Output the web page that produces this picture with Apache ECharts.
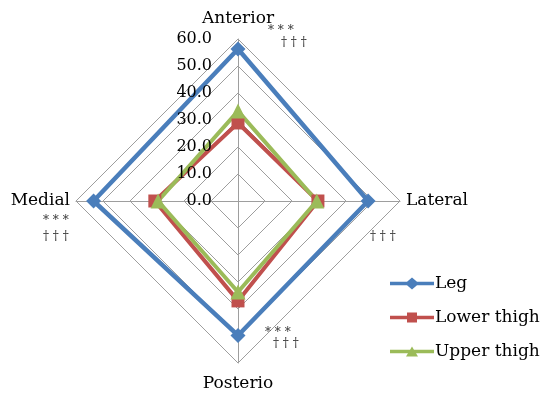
<!DOCTYPE html>
<html>
<head>
<meta charset="utf-8">
<script src="https://cdn.jsdelivr.net/npm/echarts@6/dist/echarts.min.js"></script>
<style>
  html, body { margin: 0; padding: 0; background: #fff; }
  #chart { width: 540px; height: 394px; }
</style>
</head>
<body>
<div id="chart"></div>
<script>
// Directions, in the order the radar lays them out (top, then counter-clockwise)
const categories = ['Anterior', 'Medial', 'Posterio', 'Lateral'];
const seriesNames = ['Leg', 'Lower thigh', 'Upper thigh'];
const legValues = [56.3, 53.5, 49.8, 48.2];
const lowerThighValues = [28.9, 30.8, 37.0, 29.6];
const upperThighValues = [33.3, 29.6, 33.7, 29.2];
const tickMax = 60;
const tickStep = 10;

const FONT = 'DejaVu Serif';
const colors = ['#4A7EBB', '#C0504D', '#9BBB59'];
const symbols = ['diamond', 'rect', 'triangle'];
const symbolSizes = [15, 13, 15];
const legendIcons = [
  'path://M0,4.3 L17,4.3 L22,0 L27,4.3 L44,4.3 L44,7.7 L27,7.7 L22,12 L17,7.7 L0,7.7 Z',
  'path://M0,4.3 L17,4.3 L17,1 L27,1 L27,4.3 L44,4.3 L44,7.7 L27,7.7 L27,11 L17,11 L17,7.7 L0,7.7 Z',
  'path://M0,4.3 L44,4.3 L44,7.7 L0,7.7 Z M22,1 L28,11 L16,11 Z'
];
const valueSets = [legValues, lowerThighValues, upperThighValues];

const cx = 238, cy = 201, R = 162;

const chart = echarts.init(document.getElementById('chart'), null, { renderer: 'canvas' });

const note = (text, x, y) => ({
  type: 'text', x: x, y: y, z: 20,
  style: { text: text, font: '12px ' + FONT, fill: '#333' }
});

const option = {
  animation: false,
  radar: {
    center: [cx, cy],
    radius: R,
    startAngle: 90,
    splitNumber: tickMax / tickStep,
    shape: 'polygon',
    indicator: categories.map(name => ({ name: name, min: 0, max: tickMax })),
    axisName: { color: '#000', fontFamily: FONT, fontSize: 17, padding: [6, 0, 6, 0] },
    nameGap: 6,
    axisLine: { lineStyle: { color: '#9E9E9E', width: 1 } },
    splitLine: { lineStyle: { color: '#9E9E9E', width: 1 } },
    splitArea: { show: false },
    axisTick: { show: false },
    axisLabel: { show: false }
  },
  // Value scale printed along the upward spoke
  grid: { left: cx, top: cy - R, height: R, width: 1, z: 10 },
  xAxis: { type: 'value', show: false },
  yAxis: {
    type: 'value', min: 0, max: tickMax, interval: tickStep, z: 10,
    axisLine: { show: false }, axisTick: { show: false }, splitLine: { show: false },
    axisLabel: {
      margin: 26, color: '#000', fontFamily: FONT, fontSize: 16,
      formatter: v => v.toFixed(1)
    }
  },
  legend: {
    orient: 'vertical',
    left: 385, top: 270,
    itemWidth: 44, itemHeight: 12, itemGap: 17,
    textStyle: { color: '#000', fontFamily: FONT, fontSize: 17, padding: [0, 0, 0, -4] },
    data: seriesNames.map((n, i) => ({ name: n, icon: legendIcons[i], itemStyle: { color: colors[i] } }))
  },
  series: [{
    type: 'radar',
    z: 2,
    data: seriesNames.map((n, i) => ({
      name: n,
      value: valueSets[i],
      symbol: symbols[i],
      symbolSize: symbolSizes[i],
      itemStyle: { color: colors[i] },
      lineStyle: { color: colors[i], width: i === 0 ? 4.5 : 4 }
    }))
  }],
  graphic: [
    note('* * *', 268, 25),
    note('† † †', 281, 37),
    note('* * *', 43, 215),
    note('† † †', 43, 231),
    note('† † †', 370, 231),
    note('* * *', 265, 327),
    note('† † †', 273, 338)
  ]
};

chart.setOption(option);
</script>
</body>
</html>
